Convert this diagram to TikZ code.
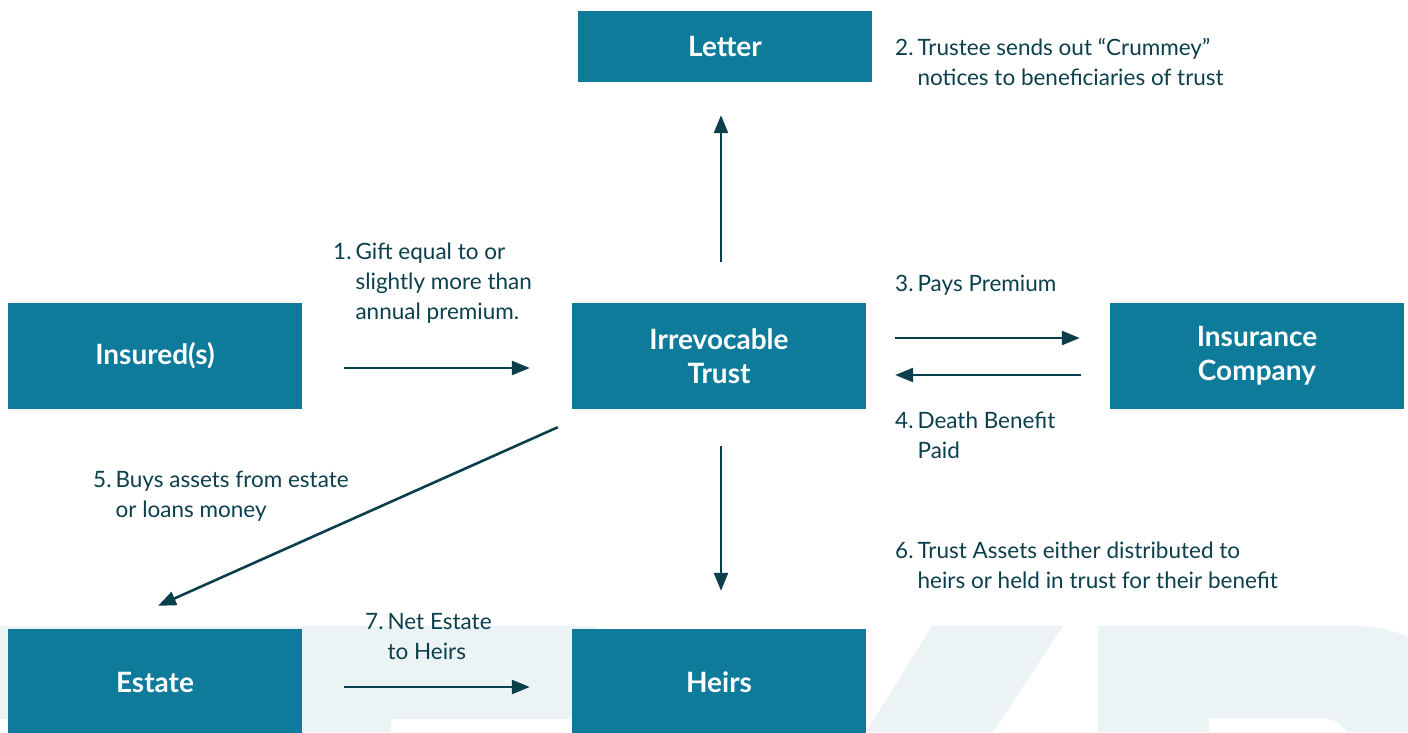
\documentclass[tikz,border=0pt]{standalone}
\usepackage{fontspec}
\setmainfont{Lato}
\usetikzlibrary{arrows.meta,positioning}
\definecolor{boxteal}{HTML}{0E7B9B}
\definecolor{inkdark}{HTML}{0C3F4C}
\definecolor{wmark}{HTML}{ECF3F5}

\begin{document}
\begin{tikzpicture}[x=1pt,y=-1pt,
  box/.style={fill=boxteal,text=white,minimum width=294pt,minimum height=106pt,
    align=center,inner sep=0pt,font=\fontsize{28}{34}\selectfont\bfseries},
  flow/.style={draw=inkdark,line width=2.6pt,-{Triangle[length=18pt,width=14pt]}},
  note/.style={anchor=base west,inner sep=0pt,text=inkdark,font=\fontsize{22.5}{30}\selectfont}]
 \useasboundingbox (0,0) rectangle (1408,732);
 % watermark
 \fill[wmark] (0,626) -- (595,626) -- (595,732) -- (572,732) -- (572,719) -- (391,719)
   -- (391,732) -- (8,732) -- (8,719) -- (0,719) -- cycle;
 \fill[wmark] (932,626) -- (1063,626) -- (993,732) -- (866,732) -- cycle;
 \fill[wmark] (1098,626) -- (1350,626) .. controls (1380,626) and (1398,632) .. (1408,637)
   -- (1408,732) -- (1347,732) .. controls (1340,722) and (1332,718) .. (1318,718)
   -- (1209,718) -- (1209,732) -- (1098,732) -- cycle;

 % boxes
 \node[box,minimum height=71pt] (letter) at (725,46.5) {Letter};
 \node[box] (insured) at (155,356) {Insured(s)};
 \node[box] (trust) at (719,356) {Irrevocable\\Trust};
 \node[box] (insurer) at (1257,356) {Insurance\\Company};
 \node[box] (estate) at (155,682) {Estate};
 \node[box] (heirs) at (719,682) {Heirs};

 % connectors
 \draw[flow,shorten <=42pt,shorten >=42pt] ([yshift=-12pt]insured.east) -- ([yshift=-12pt]trust.west);
 \draw[flow,shorten <=41pt,shorten >=33pt] ([xshift=2pt]trust.north) -- ([xshift=-4pt]letter.south);
 \draw[flow,shorten <=29pt,shorten >=30pt] ([yshift=18pt]trust.east) -- ([yshift=18pt]insurer.west);
 \draw[flow,shorten <=29pt,shorten >=29pt] ([yshift=-19pt]insurer.west) -- ([yshift=-19pt]trust.east);
 \draw[flow] ([xshift=-14pt,yshift=-18pt]trust.south west) -- ([xshift=3pt,yshift=23pt]estate.north);
 \draw[flow,shorten <=37pt,shorten >=38pt] ([xshift=2pt]trust.south) -- ([xshift=2pt]heirs.north);
 \draw[flow,shorten <=42pt,shorten >=42pt] ([yshift=-5pt]estate.east) -- ([yshift=-5pt]heirs.west);

 % labels
 \node[note] (l1) at (333,259) {\begin{tabular}[t]{@{}l@{\hspace{4pt}}l@{}}1. & Gift equal to or\\ & slightly more than\\ & annual premium.\end{tabular}};
 \node[note] (l2) at (895,55) {\begin{tabular}[t]{@{}l@{\hspace{4pt}}l@{}}2. & Trustee sends out “Crummey”\\ & notices to beneficiaries of trust\end{tabular}};
 \node[note] (l3) at (895,291) {\begin{tabular}[t]{@{}l@{\hspace{4pt}}l@{}}3. & Pays Premium\end{tabular}};
 \node[note] (l4) at (895,428) {\begin{tabular}[t]{@{}l@{\hspace{4pt}}l@{}}4. & Death Benefit\\ & Paid\end{tabular}};
 \node[note] (l5) at (93,487) {\begin{tabular}[t]{@{}l@{\hspace{4pt}}l@{}}5. & Buys assets from estate\\ & or loans money\end{tabular}};
 \node[note] (l6) at (895,558) {\begin{tabular}[t]{@{}l@{\hspace{4pt}}l@{}}6. & Trust Assets either distributed to\\ & heirs or held in trust for their benefit\end{tabular}};
 \node[note] (l7) at (365,629) {\begin{tabular}[t]{@{}l@{\hspace{4pt}}l@{}}7. & Net Estate\\ & to Heirs\end{tabular}};
\end{tikzpicture}
\end{document}
